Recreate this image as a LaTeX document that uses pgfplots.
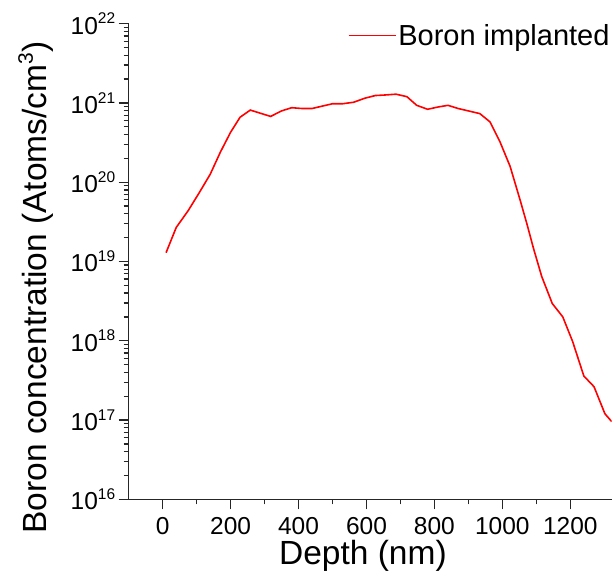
\documentclass[border=0pt]{standalone}
\usepackage{fontspec}
\setmainfont{Liberation Sans}
\usepackage{pgfplots}
\pgfplotsset{compat=1.18}
\newcommand{\tlab}[1]{10\raisebox{0.42em}{\fontsize{15.5}{15.5}\selectfont #1}}
\begin{document}
\begin{tikzpicture}
\begin{axis}[
  at={(0pt,0pt)}, anchor=south west,
  scale only axis, width=483pt, height=475.6pt,
  xmin=-100, xmax=1322, ymin=1e16, ymax=1e22, ymode=log,
  axis lines=left,
  axis line style={-, line width=1.4pt, black!85},
  tick align=outside,
  major tick length=10pt, minor tick length=5pt,
  tick style={line width=1.3pt, black!85},
  xtick={0,200,400,600,800,1000,1200}, minor x tick num=1,
  ytick={1e16,1e17,1e18,1e19,1e20,1e21,1e22},
  yticklabels={\tlab{16},\tlab{17},\tlab{18},\tlab{19},\tlab{20},\tlab{21},\tlab{22}},
  /pgf/number format/assume math mode=true,
  /pgf/number format/1000 sep={},
  ticklabel style={font=\fontsize{24.5}{24.5}\selectfont},
  xticklabel style={yshift=-5pt},
  xlabel={Depth (nm)},
  ylabel={Boron concentration (Atoms/cm\raisebox{0.42em}{\fontsize{21}{21}\selectfont 3})},
  label style={font=\fontsize{33.5}{33.5}\selectfont},
  xlabel style={at={(axis description cs:0.485,-0.138)}, anchor=base},
  ylabel style={at={(axis description cs:-0.192,0.445)}, anchor=center},
  legend style={draw=white, fill=white, at={(rel axis cs:1,0.975)}, anchor=east,
    font=\fontsize{29}{29}\selectfont, inner sep=0pt},
  legend cell align=left,
]
\addplot[color=red, line width=1.6pt,
  legend image code/.code={\draw[color=red, line width=1.6pt] (0pt,0pt) -- (47pt,0pt);}] coordinates {
(10,1.29e19) (40,2.69e19) (75,4.37e19) (108,7.41e19) (140,1.26e20)
(170,2.40e20) (200,4.27e20) (228,6.61e20) (258,8.13e20) (288,7.41e20)
(318,6.76e20) (350,7.94e20) (380,8.71e20) (410,8.51e20) (440,8.51e20)
(470,9.12e20) (500,9.77e20) (530,9.77e20) (562,1.02e21) (596,1.15e21)
(626,1.24e21) (655,1.26e21) (687,1.29e21) (719,1.20e21) (748,9.33e20)
(780,8.32e20) (812,8.91e20) (840,9.33e20) (870,8.51e20) (900,7.94e20)
(934,7.33e20) (964,5.75e20) (993,3.24e20) (1023,1.58e20) (1052,6.03e19)
(1072,3.02e19) (1092,1.45e19) (1116,6.46e18) (1147,2.95e18) (1178,2.00e18)
(1207,9.77e17) (1240,3.59e17) (1270,2.63e17) (1302,1.20e17) (1322,9.55e16)
};
\addlegendentry{Boron implanted}
\end{axis}
\pgfresetboundingbox
\path (-128.7pt,-77.7pt) rectangle (487.3pt,499.3pt);
\end{tikzpicture}
\end{document}
